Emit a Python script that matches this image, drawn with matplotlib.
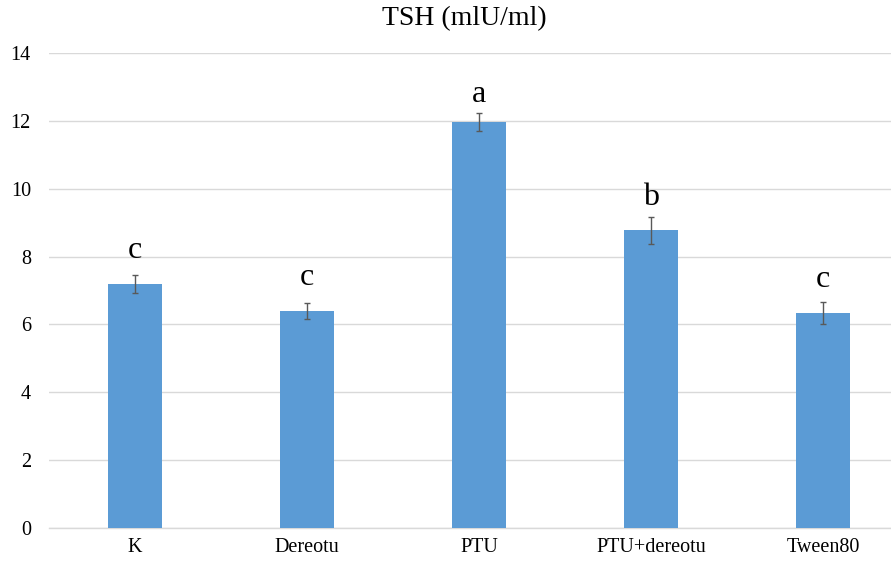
import matplotlib
matplotlib.use("Agg")
import matplotlib.pyplot as plt
import numpy as np

categories = ["K", "Dereotu", "PTU", "PTU+dereotu", "Tween80"]
means = [7.19, 6.40, 11.97, 8.78, 6.33]
errors = [0.27, 0.24, 0.27, 0.40, 0.32]
letters = ["c", "c", "a", "b", "c"]
letter_y = [7.96, 7.16, 12.56, 9.52, 7.10]
yticks = [0, 2, 4, 6, 8, 10, 12, 14]

plt.rcParams['font.family'] = ['Liberation Serif', 'DejaVu Serif']

W, H = 891, 566
fig = plt.figure(figsize=(W/100, H/100), dpi=100)
ax = fig.add_axes([49/W, 1-528/H, 860/W, (528-53)/H])

x = np.arange(len(categories))
ax.bar(x, means, width=0.31, color="#5B9BD5", zorder=3)
ax.errorbar(x, means, yerr=errors, fmt='none', ecolor="#595959", elinewidth=1,
            capsize=2.3, capthick=1, zorder=4)
for xi, lab, yy in zip(x, letters, letter_y):
    ax.text(xi, yy, lab, ha='center', va='baseline', fontsize=23, color='black', zorder=5)

ax.set_xlim(-0.5, len(categories) - 0.5)
ax.set_ylim(0, 14)
ax.set_yticks(yticks)
ax.set_yticklabels([str(v) for v in yticks], fontsize=14.5)
ax.set_xticks(x)
ax.set_xticklabels(categories, fontsize=14.5)
ax.tick_params(axis='both', length=0)
ax.tick_params(axis='y', pad=13)
ax.tick_params(axis='x', pad=7)
ax.yaxis.grid(True, color="#d9d9d9", linewidth=1, zorder=0)
ax.set_axisbelow(True)
for s in ['top', 'right', 'left']:
    ax.spines[s].set_visible(False)
ax.spines['bottom'].set_color("#d9d9d9")
ax.spines['bottom'].set_linewidth(1)

fig.text(464/W, 1-19/H, "TSH (mlU/ml)", ha='center', va='center', fontsize=20)

fig.savefig("out.png", dpi=100)
